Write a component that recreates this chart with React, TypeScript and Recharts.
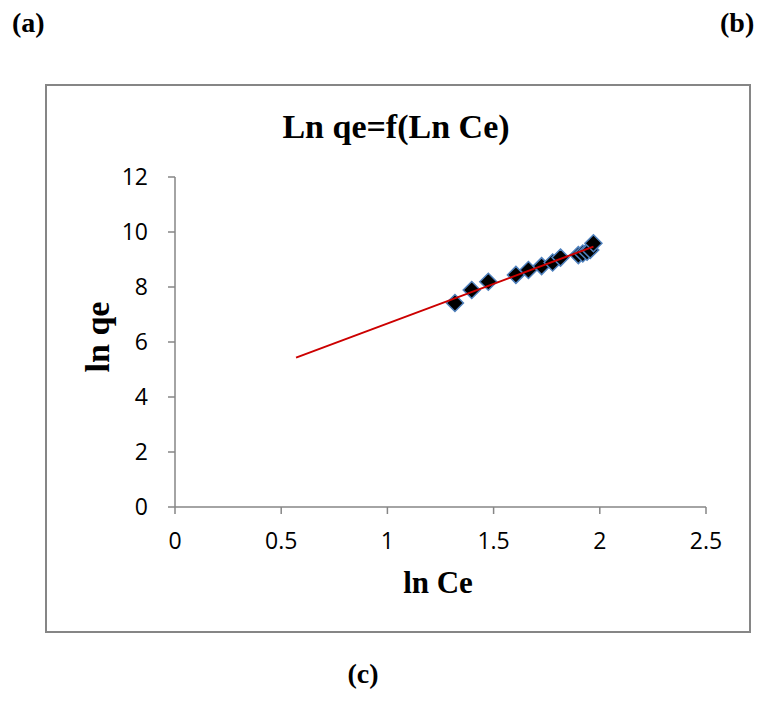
import { ScatterChart, Scatter, XAxis, YAxis } from "recharts"

const lnCe = [1.318, 1.397, 1.475, 1.605, 1.664, 1.726, 1.778, 1.815, 1.899, 1.92, 1.94, 1.955, 1.97]
const lnQe = [7.42, 7.89, 8.19, 8.44, 8.62, 8.76, 8.89, 9.07, 9.16, 9.22, 9.28, 9.35, 9.59]

// linear trendline ends
const trendCe = [0.57, 1.97]
const trendQe = [5.43, 9.47]

const xTicks = [0, 0.5, 1, 1.5, 2, 2.5]
const yTicks = [0, 2, 4, 6, 8, 10, 12]

const points = lnCe.map((x, i) => ({ x, y: lnQe[i] }))
const trend = trendCe.map((x, i) => ({ x, y: trendQe[i] }))

const axisGray = "#868686"
const serif = "'Liberation Serif', 'Times New Roman', serif"
const tickStyle = { fill: "#000", fontSize: 23, fontFamily: "'Open Sans', sans-serif" }

function Diamond(props: any) {
  const { cx, cy } = props
  if (cx == null || cy == null) return null
  const r = 8.5
  return (
    <polygon
      points={`${cx},${cy - r} ${cx + r},${cy} ${cx},${cy + r} ${cx - r},${cy}`}
      fill="#000"
      stroke="#4F81BD"
      strokeWidth={1.5}
    />
  )
}

export default function App() {
  return (
    <div style={{ position: "absolute", left: 0, top: 0, width: 762, height: 720, background: "#fff" }}>
      <div
        style={{
          position: "absolute",
          left: 45,
          top: 84,
          width: 706,
          height: 549,
          boxSizing: "border-box",
          border: `2px solid ${axisGray}`,
        }}
      />
      <div style={{ position: "absolute", left: 45, top: 84 }}>
        <ScatterChart width={706} height={549} margin={{ top: 93, right: 45, bottom: 66, left: 50 }}>
          <XAxis
            type="number"
            dataKey="x"
            domain={[0, 2.5]}
            ticks={xTicks}
            height={60}
            tick={tickStyle}
            tickSize={7}
            tickMargin={19}
            tickLine={{ stroke: axisGray, strokeWidth: 1.5 }}
            axisLine={{ stroke: axisGray, strokeWidth: 1.5 }}
          />
          <YAxis
            type="number"
            dataKey="y"
            domain={[0, 12]}
            ticks={yTicks}
            width={80}
            tick={tickStyle}
            tickSize={7}
            tickMargin={20}
            tickLine={{ stroke: axisGray, strokeWidth: 1.5 }}
            axisLine={{ stroke: axisGray, strokeWidth: 1.5 }}
          />
          <Scatter data={points} shape={Diamond} isAnimationActive={false} />
          <Scatter
            data={trend}
            line={{ stroke: "#CC0000", strokeWidth: 2 }}
            shape={() => null}
            isAnimationActive={false}
          />
        </ScatterChart>
      </div>
      <svg width={762} height={720} style={{ position: "absolute", left: 0, top: 0, pointerEvents: "none" }}>
        <g fontFamily={serif} fontWeight="bold" fill="#000">
          <text x={12} y={32} fontSize={28}>(a)</text>
          <text x={720} y={32} fontSize={28}>(b)</text>
          <text x={363} y={683} fontSize={28} textAnchor="middle">(c)</text>
          <text x={396} y={138} fontSize={34} textAnchor="middle">Ln qe=f(Ln Ce)</text>
          <text x={438} y={593} fontSize={31} textAnchor="middle">ln Ce</text>
          <text x={109} y={337} fontSize={34} textAnchor="middle" transform="rotate(-90 109 337)">ln qe</text>
        </g>
      </svg>
    </div>
  )
}
